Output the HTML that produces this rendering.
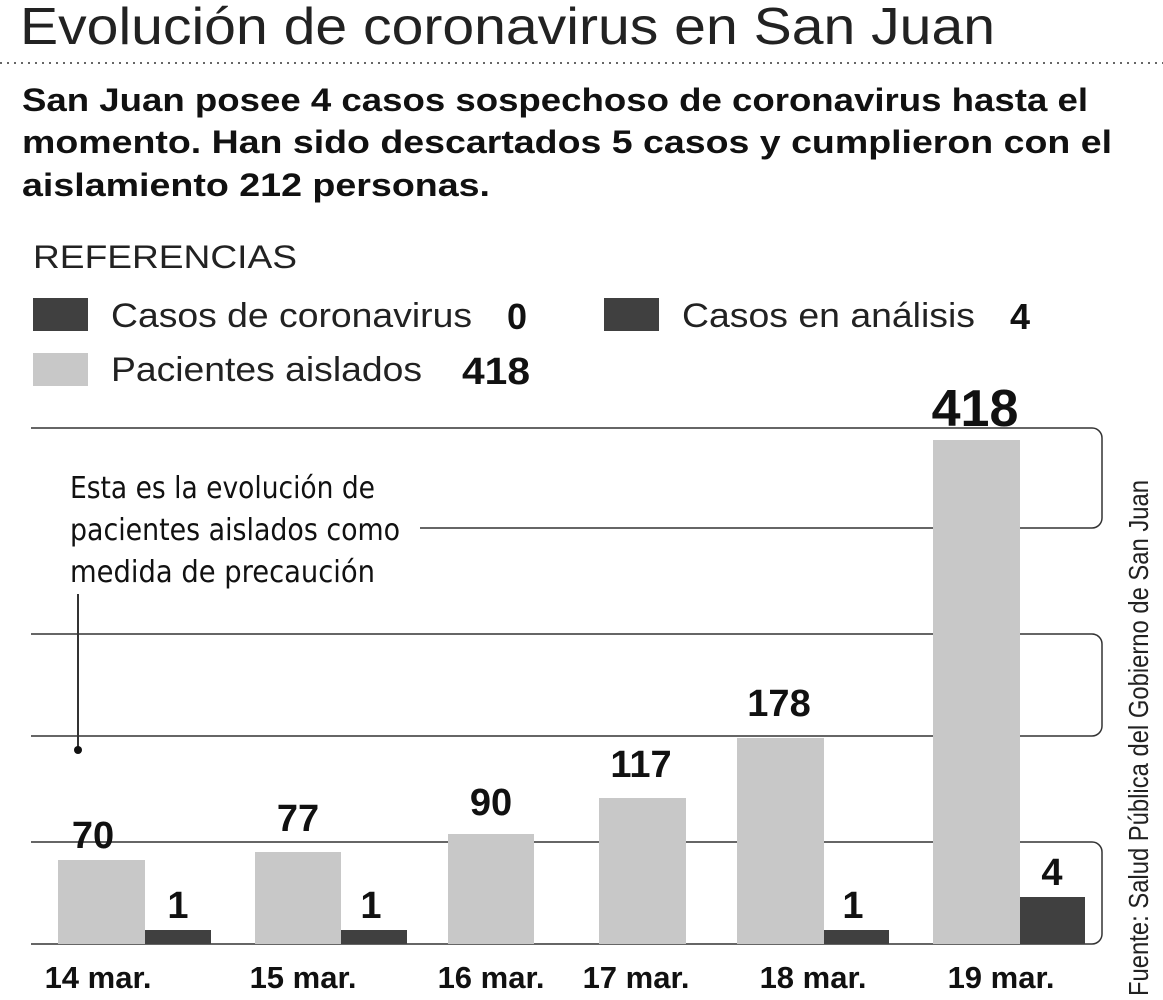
<!DOCTYPE html>
<html><head><meta charset="utf-8"><style>
body{margin:0;background:#fff;width:1163px;height:1000px;overflow:hidden}
svg{display:block}
</style></head><body>
<svg width="1163" height="1000" xmlns="http://www.w3.org/2000/svg" font-family="Liberation Sans, sans-serif">
<text x="20" y="44" font-size="52" fill="#222" textLength="975" lengthAdjust="spacingAndGlyphs">Evolución de coronavirus en San Juan</text>
<line x1="0" y1="63" x2="1163" y2="63" stroke="#666" stroke-width="2" stroke-dasharray="2,5"/>
<g font-size="32" font-weight="bold" fill="#111">
<text x="22" y="111" textLength="1066" lengthAdjust="spacingAndGlyphs">San Juan posee 4 casos sospechoso de coronavirus hasta el</text>
<text x="22" y="153" textLength="1090" lengthAdjust="spacingAndGlyphs">momento. Han sido descartados 5 casos y cumplieron con el</text>
<text x="22" y="196" textLength="468" lengthAdjust="spacingAndGlyphs">aislamiento 212 personas.</text>
</g>
<text x="33" y="268" font-size="32" fill="#222" textLength="264" lengthAdjust="spacingAndGlyphs">REFERENCIAS</text>
<rect x="33" y="298" width="55" height="33" fill="#404040"/>
<text x="111" y="327" font-size="34" fill="#222" textLength="361" lengthAdjust="spacingAndGlyphs">Casos de coronavirus</text>
<text x="507" y="329" font-size="36" font-weight="bold" fill="#111">0</text>
<rect x="604" y="298" width="55" height="33" fill="#404040"/>
<text x="682" y="327" font-size="34" fill="#222" textLength="293" lengthAdjust="spacingAndGlyphs">Casos en análisis</text>
<text x="1010" y="329" font-size="36" font-weight="bold" fill="#111">4</text>
<rect x="33" y="353" width="55" height="33" fill="#c8c8c8"/>
<text x="111" y="381" font-size="34" fill="#222" textLength="311" lengthAdjust="spacingAndGlyphs">Pacientes aislados</text>
<text x="462" y="384" font-size="38" font-weight="bold" fill="#111" textLength="68" lengthAdjust="spacingAndGlyphs">418</text>
<g stroke="#333" stroke-width="1.5" fill="none">
<path d="M31 428 H1092 a10 10 0 0 1 10 10 V518 a10 10 0 0 1 -10 10 H420"/>
<path d="M31 634 H1092 a10 10 0 0 1 10 10 V726 a10 10 0 0 1 -10 10 H31"/>
<path d="M31 842 H1092 a10 10 0 0 1 10 10 V934 a10 10 0 0 1 -10 10 H31"/>
<line x1="78" y1="594" x2="78" y2="750" stroke-width="2"/>
</g>
<circle cx="78" cy="750" r="4" fill="#111"/>
<g font-size="30" fill="#111" font-family="DejaVu Sans Condensed, Liberation Sans Narrow, sans-serif">
<text x="70" y="498" textLength="305" lengthAdjust="spacingAndGlyphs">Esta es la evolución de</text>
<text x="70" y="540" textLength="330" lengthAdjust="spacingAndGlyphs">pacientes aislados como</text>
<text x="70" y="582" textLength="305" lengthAdjust="spacingAndGlyphs">medida de precaución</text>
</g>
<g fill="#c8c8c8">
<rect x="58" y="860" width="87" height="84"/>
<rect x="255" y="852" width="86" height="92"/>
<rect x="448" y="834" width="86" height="110"/>
<rect x="599" y="798" width="87" height="146"/>
<rect x="737" y="738" width="87" height="206"/>
<rect x="933" y="440" width="87" height="504"/>
</g>
<g fill="#404040">
<rect x="145" y="930" width="66" height="14"/>
<rect x="341" y="930" width="66" height="14"/>
<rect x="824" y="930" width="65" height="14"/>
<rect x="1020" y="897" width="65" height="47"/>
</g>
<g font-size="38" font-weight="bold" fill="#111" text-anchor="middle">
<text x="93" y="848">70</text>
<text x="298" y="831">77</text>
<text x="491" y="815">90</text>
<text x="641" y="777">117</text>
<text x="779" y="716">178</text>
<text x="975" y="426" font-size="52">418</text>
<text x="178" y="918">1</text>
<text x="371" y="918">1</text>
<text x="853" y="918">1</text>
<text x="1052" y="885">4</text>
</g>
<g font-size="31" font-weight="bold" fill="#111" text-anchor="middle">
<text x="98" y="988">14 mar.</text>
<text x="303" y="988">15 mar.</text>
<text x="491" y="988">16 mar.</text>
<text x="636" y="988">17 mar.</text>
<text x="813" y="988">18 mar.</text>
<text x="1001" y="988">19 mar.</text>
</g>
<text transform="translate(1148,996) rotate(-90)" font-size="28" fill="#222" textLength="516" lengthAdjust="spacingAndGlyphs">Fuente: Salud Pública del Gobierno de San Juan</text>
</svg>
</body></html>
